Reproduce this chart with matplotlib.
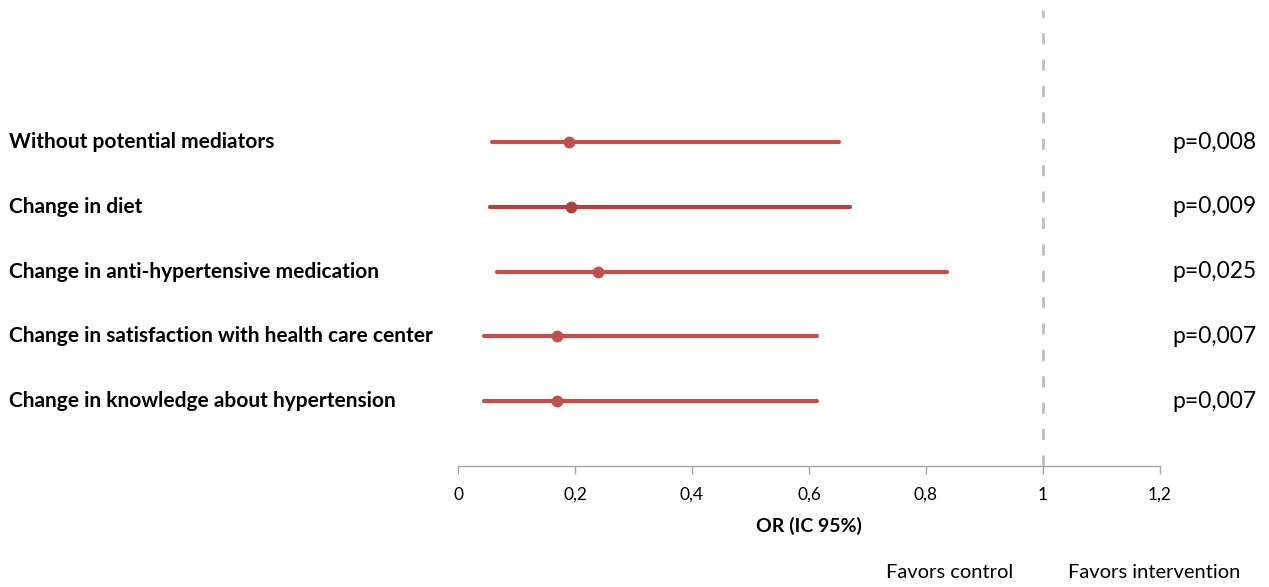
import matplotlib
matplotlib.use('Agg')
import matplotlib.pyplot as plt
from matplotlib.ticker import FuncFormatter

plt.rcParams['font.family'] = ['Lato', 'DejaVu Sans']

models = ['Without potential mediators',
          'Change in diet',
          'Change in anti-hypertensive medication',
          'Change in satisfaction with health care center',
          'Change in knowledge about hypertension']
odds = [0.190, 0.193, 0.239, 0.169, 0.169]
ci_low = [0.058, 0.055, 0.067, 0.044, 0.044]
ci_high = [0.651, 0.670, 0.836, 0.614, 0.614]
pvals = ['p=0,008', 'p=0,009', 'p=0,025', 'p=0,007', 'p=0,007']
xticks = [0, 0.2, 0.4, 0.6, 0.8, 1, 1.2]

colors = ['#C0504D', '#A94442', '#C0504D', '#C0504D', '#C0504D']

fig = plt.figure(figsize=(12.69, 5.87), dpi=100)
ax = fig.add_axes([458 / 1269, 121 / 587, 702 / 1269, 456 / 587])

for i, (lo, hi, m, c) in enumerate(zip(ci_low, ci_high, odds, colors)):
    ax.plot([lo, hi], [i, i], color=c, lw=3, solid_capstyle='round', zorder=3)
    ax.plot(m, i, 'o', color=c, ms=7.5, zorder=4)
    ax.annotate(models[i], xy=(9, i), xycoords=('figure pixels', 'data'),
                ha='left', va='center', fontsize=15, weight='bold',
                color='black')
    ax.annotate(pvals[i], xy=(1257, i), xycoords=('figure pixels', 'data'),
                ha='right', va='center', fontsize=16.5, color='black')

# reference line at OR = 1
ax.axvline(1, color='#BFBFBF', lw=2, ls=(0, (4, 5.5)), zorder=1)

ax.set_xlim(0, 1.2)
ax.set_ylim(5, -2.04)
ax.set_xticks(xticks)
ax.xaxis.set_major_formatter(
    FuncFormatter(lambda v, p: ('%g' % round(v, 1)).replace('.', ',')))
ax.tick_params(axis='x', direction='out', length=6, width=1,
               color='#A6A6A6', labelsize=12.5, pad=9)
ax.set_yticks([])
for s in ['top', 'left', 'right']:
    ax.spines[s].set_visible(False)
ax.spines['bottom'].set_color('#A6A6A6')
ax.spines['bottom'].set_linewidth(1)

ax.set_xlabel('OR (IC 95%)', fontsize=14, weight='bold', labelpad=10)

fig.text(886 / 1269, 1 - 573 / 587, 'Favors control', ha='left',
         va='center', fontsize=14.5)
fig.text(1068 / 1269, 1 - 573 / 587, 'Favors intervention', ha='left',
         va='center', fontsize=14.5)

fig.savefig('out.png', dpi=100)
